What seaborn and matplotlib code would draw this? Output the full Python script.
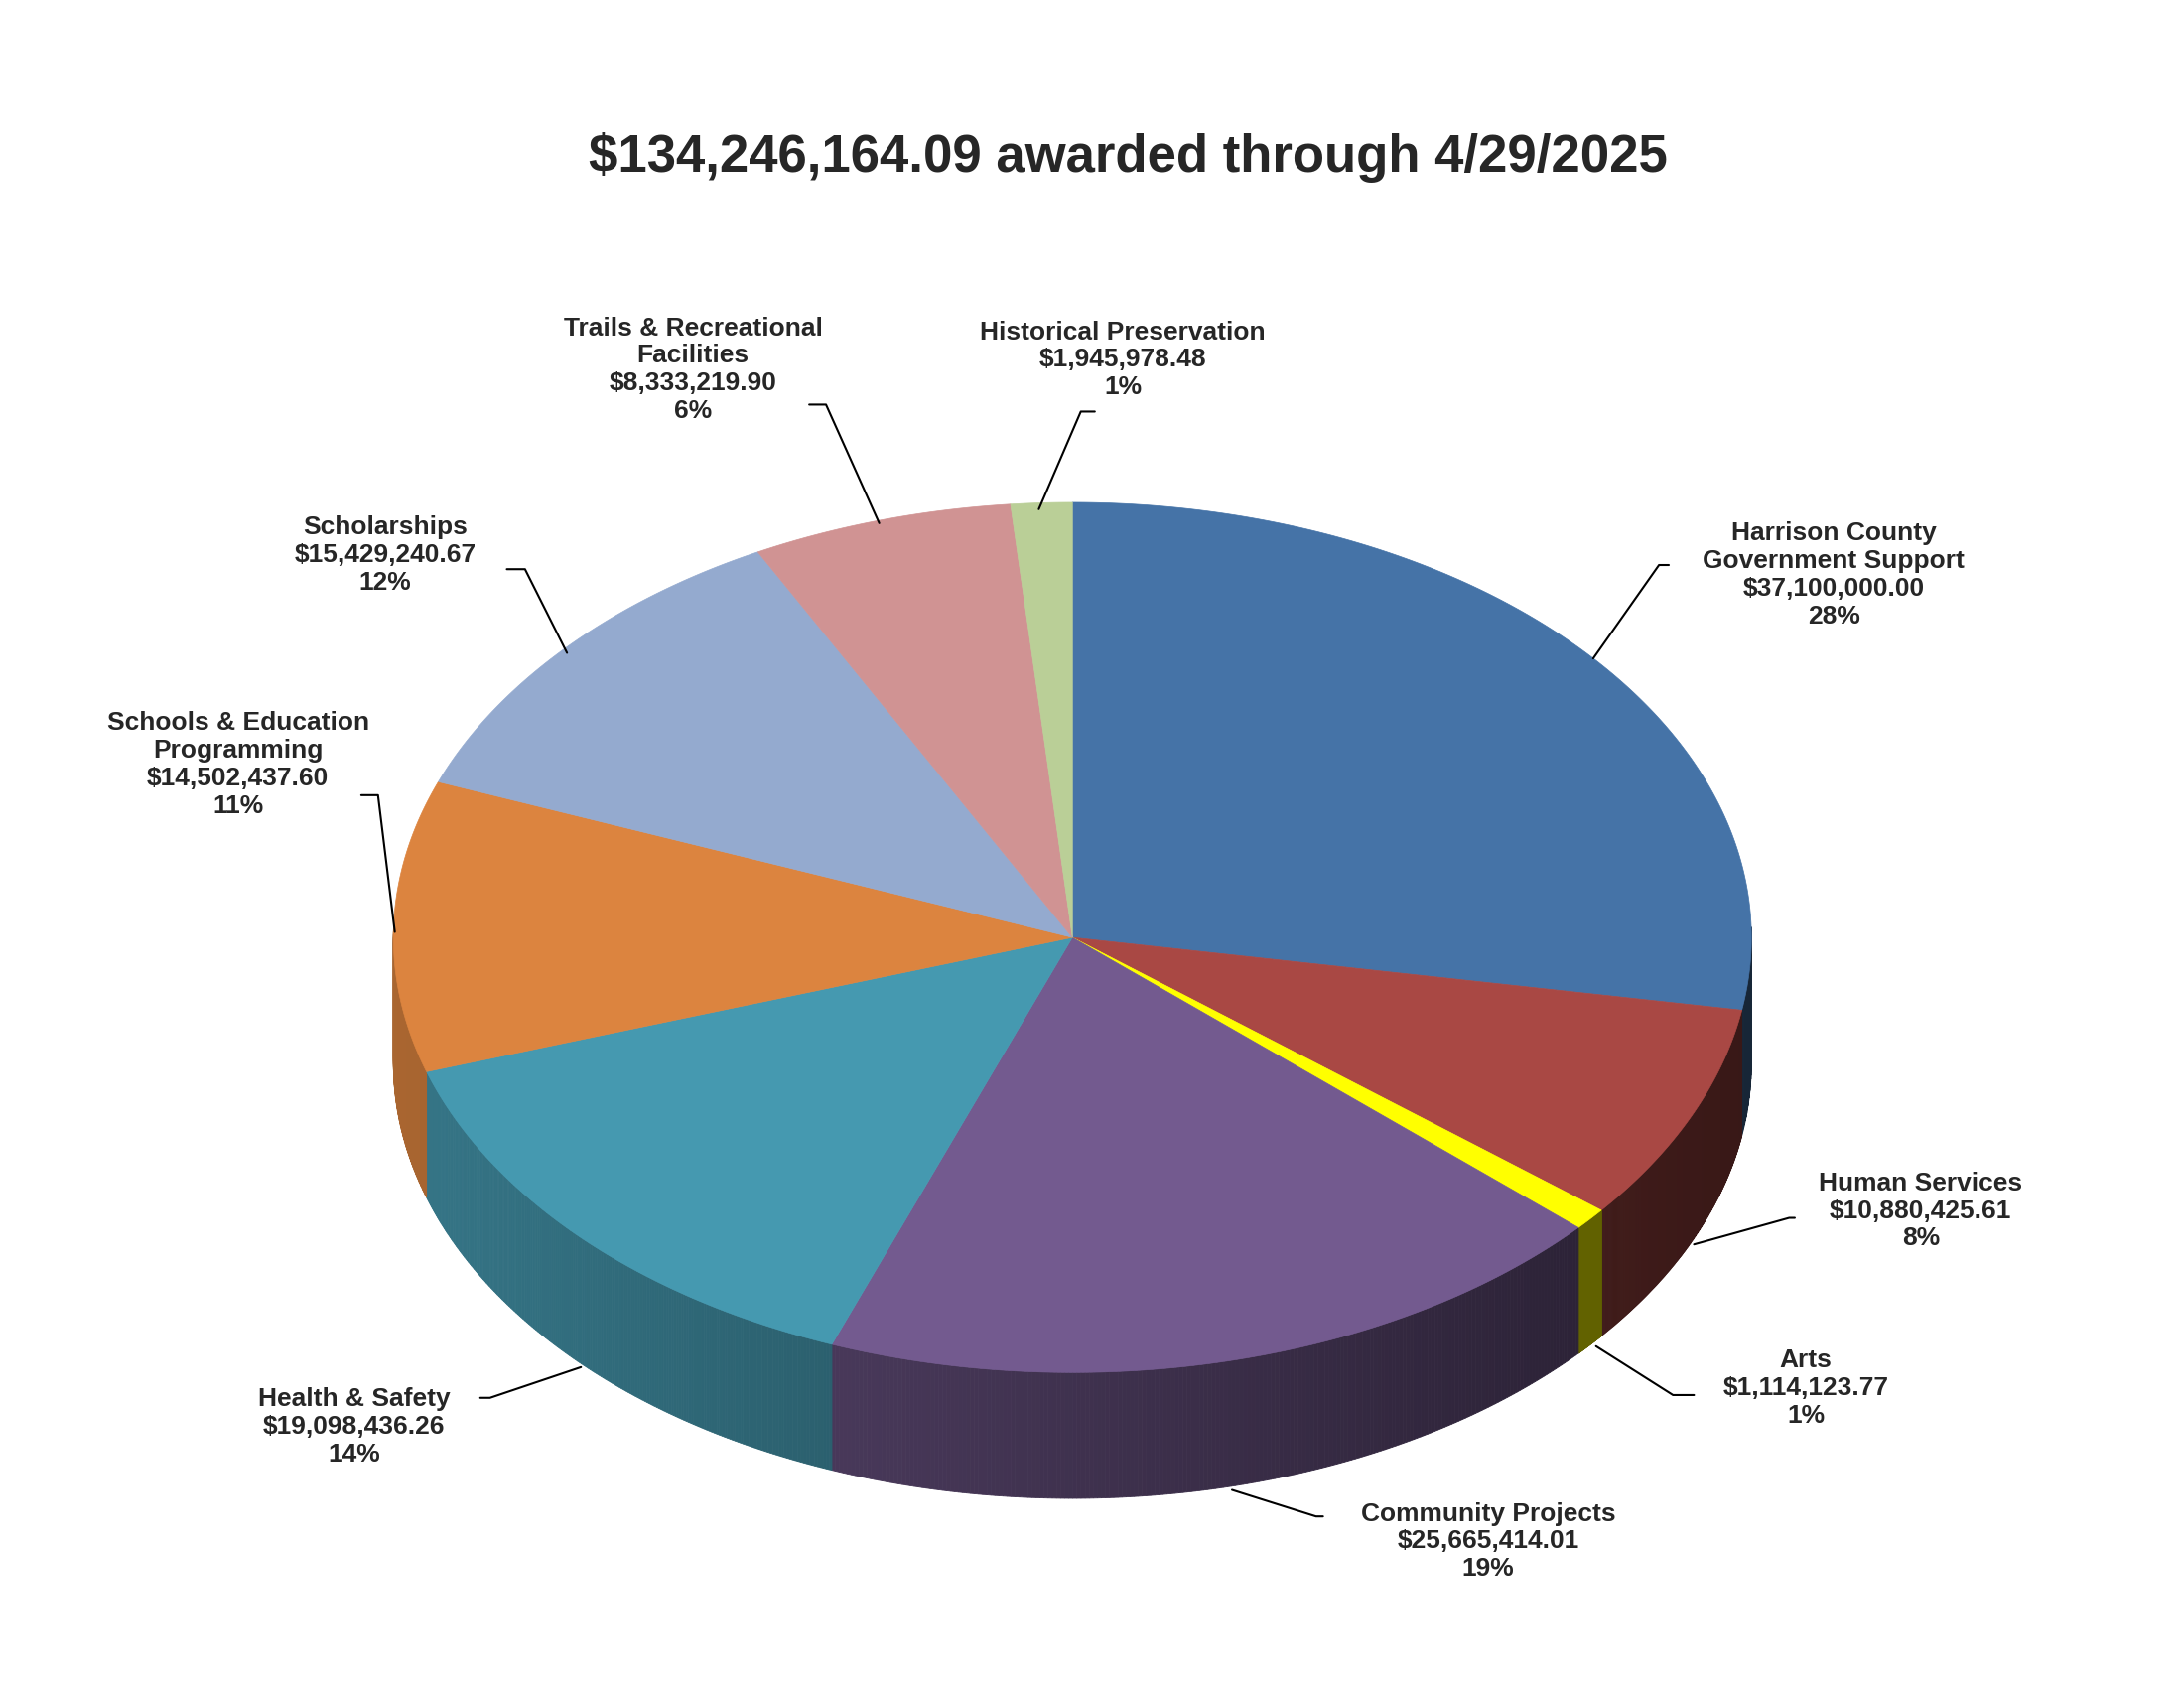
import numpy as np
import matplotlib
matplotlib.use("Agg")
import matplotlib.pyplot as plt
import seaborn as sns
from matplotlib.colors import to_rgb

sns.set_theme(style="white")
plt.rcParams["font.family"] = "Liberation Sans"

categories = ["Harrison County\nGovernment Support", "Human Services", "Arts", "Community Projects",
              "Health & Safety", "Schools & Education\nProgramming", "Scholarships",
              "Trails & Recreational\nFacilities", "Historical Preservation"]
amounts = [37100000.00, 10880425.61, 1114123.77, 25665414.01, 19098436.26,
           14502437.60, 15429240.67, 8333219.90, 1945978.48]
amount_labels = ["$37,100,000.00", "$10,880,425.61", "$1,114,123.77", "$25,665,414.01",
                 "$19,098,436.26", "$14,502,437.60", "$15,429,240.67", "$8,333,219.90", "$1,945,978.48"]
pct_labels = ["28%", "8%", "1%", "19%", "14%", "11%", "12%", "6%", "1%"]
colors = ["#4573A7", "#A94844", "#FFFF00", "#735A8F", "#4599B0", "#DC843F", "#94AACF", "#D09393", "#BACF97"]
title = "$134,246,164.09 awarded through 4/29/2025"

# label text centres and leader paths (reference pixel space, converted below)
label_xy = [(1310, 412), (1372, 868), (1290, 995), (1063, 1105), (253, 1023),
            (170, 548), (275, 398), (495, 265), (802, 258)]
leaders = [[(1138, 472), (1185, 405), (1192, 405)],
           [(1210, 892), (1278, 873), (1282, 873)],
           [(1140, 965), (1195, 1000), (1210, 1000)],
           [(880, 1068), (940, 1087), (945, 1087)],
           [(415, 980), (350, 1002), (343, 1002)],
           [(282, 668), (270, 570), (258, 570)],
           [(405, 468), (375, 408), (362, 408)],
           [(628, 375), (590, 290), (578, 290)],
           [(742, 365), (772, 295), (782, 295)]]

def P(x, y):
    return ((x - 766) / 485.0, (672 - y) / 485.0)

fig = plt.figure(figsize=(22, 17), dpi=100)
ax = fig.add_axes([0, 0, 1, 1])
ax.set_xlim(-766 / 485, (1560 - 766) / 485)
ax.set_ylim(-(1210 - 672) / 485, 672 / 485)
ax.axis("off")

rx, ry, depth = 1.0, 0.643, 0.186
total = sum(amounts)
fracs = np.array(amounts) / total
ends = 90 - 360 * np.cumsum(fracs)
starts = np.concatenate([[90], ends[:-1]])

# sides
for s, e, c in zip(starts, ends, colors):
    ts = np.linspace(s, e, 200)
    base = np.array(to_rgb(c))
    for a, b in zip(ts[:-1], ts[1:]):
        tm = np.radians((a + b) / 2)
        if np.sin(tm) > 0.02:
            continue
        ta, tb = np.radians(a), np.radians(b)
        xs = [rx*np.cos(ta), rx*np.cos(tb), rx*np.cos(tb), rx*np.cos(ta)]
        ys = [ry*np.sin(ta), ry*np.sin(tb), ry*np.sin(tb)-depth, ry*np.sin(ta)-depth]
        f = 0.55 - 0.22 * np.cos(tm)
        ax.fill(xs, ys, color=np.clip(base * f, 0, 1), lw=0.6, ec=np.clip(base * f, 0, 1), zorder=1)

# tops
for s, e, c in zip(starts, ends, colors):
    t = np.radians(np.linspace(s, e, 300))
    xs = np.concatenate([[0], rx*np.cos(t), [0]])
    ys = np.concatenate([[0], ry*np.sin(t), [0]])
    ax.fill(xs, ys, color=c, lw=0.5, ec=c, zorder=2)

for cat, am, pc, (lx, ly), path in zip(categories, amount_labels, pct_labels, label_xy, leaders):
    x, y = P(lx, ly)
    ax.text(x, y, f"{cat}\n{am}\n{pc}", ha="center", va="center", fontsize=19,
            fontweight="bold", linespacing=1.2, zorder=5)
    pts = np.array([P(*p) for p in path])
    ax.plot(pts[:, 0], pts[:, 1], color="black", lw=1.5, zorder=4)

tx, ty = P(766 + 40, 113)
ax.text(tx, ty, title, ha="center", va="center", fontsize=38, fontweight="bold")

fig.savefig("out.png", dpi=100)
